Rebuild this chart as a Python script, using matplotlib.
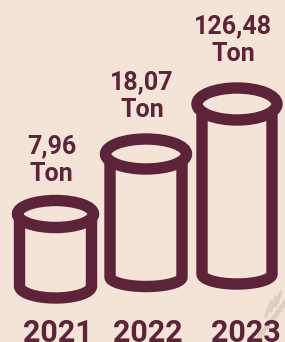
import numpy as np
import matplotlib.pyplot as plt
from matplotlib.patches import Ellipse

# data
years = ['2021', '2022', '2023']
values = ['7,96', '18,07', '126,48']
unit = 'Ton'
# drawn height of each cylinder icon (px, read from the picture, not to scale)
icon_heights = [72, 123, 170]

bg = '#f3e4d7'
maroon = '#5c2339'

fig = plt.figure(figsize=(2.85, 3.42), dpi=100)
fig.patch.set_facecolor(bg)
ax = fig.add_axes([0, 0, 1, 1])
ax.set_xlim(0, 285)
ax.set_ylim(342, 0)
ax.axis('off')

# layout of each icon: centre x, bottom y, top ellipse radii, body half width, bottom curve
centers = [55.5, 146, 237]
bottoms = [286, 277, 274]
top_rx = [38, 40.5, 40]
top_ry = [13.5, 15, 16]
half_w = [36, 36, 35]
bot_ry = [12, 9.5, 10]
label_gap = [33, 37, 43]
year_dx = [2, 1.5, 9]

lw = 8.2
t = np.linspace(np.pi, 0, 60)

# faint watermark stroke in the corner
wm = '#dccfc2'
ax.plot([254, 290], [344, 296], color=wm, lw=3.5, zorder=0)
for k in range(3):
    x0 = 266 + 5 * k
    ax.plot([x0, x0 + 5], [316 - 5 * k, 302 - 5 * k], color=wm, lw=2.2, zorder=0)

for i, yr in enumerate(years):
    cx = centers[i]
    yb = bottoms[i]
    yt = yb - icon_heights[i]
    w = half_w[i]
    xs = np.concatenate([[cx - w], cx + w * np.cos(t), [cx + w]])
    ys = np.concatenate([[yt], yb + bot_ry[i] * np.sin(t), [yt]])
    ax.plot(xs, ys, color=maroon, lw=lw, solid_joinstyle='round',
            solid_capstyle='round', zorder=2)
    ax.add_patch(Ellipse((cx, yt), 2 * top_rx[i], 2 * top_ry[i],
                         facecolor=bg, edgecolor=maroon, lw=lw, zorder=3))

    ty = yt - label_gap[i]
    ax.text(cx - 4, ty - 28, values[i], ha='center', va='baseline',
            fontsize=18, fontweight='bold', family='Roboto', color=maroon)
    ax.text(cx - 4, ty, unit, ha='center', va='baseline',
            fontsize=18, fontweight='bold', family='Roboto', color=maroon)
    ax.text(cx + year_dx[i], 342, yr, ha='center', va='baseline',
            fontsize=22, fontweight='bold', family='Roboto', color=maroon,
            zorder=4)

fig.savefig('out.png', dpi=100, facecolor=bg)
